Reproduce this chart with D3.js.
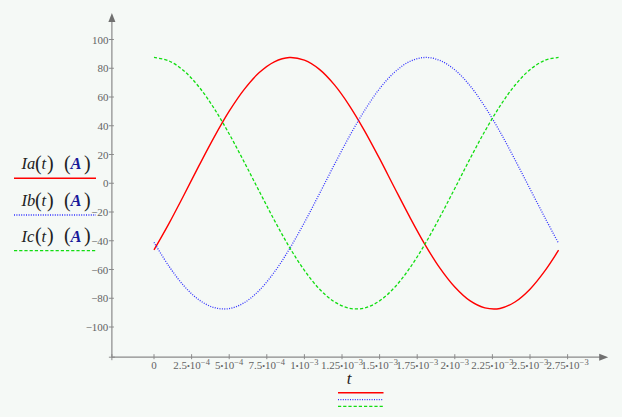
<!DOCTYPE html>
<html><head><meta charset="utf-8">
<script src="https://cdn.jsdelivr.net/npm/d3@7"></script>
<style>
html,body{margin:0;padding:0;background:#f5f9f6;}
svg{display:block;}
</style></head>
<body>
<script>
// time samples (s)
const tValues = [0,1e-4,2e-4,3e-4,4e-4,5e-4,6e-4,7e-4,8e-4,9e-4,1.0e-3,1.1e-3,1.2e-3,1.3e-3,1.4e-3,1.5e-3,1.6e-3,1.7e-3,1.8e-3,1.9e-3,2.0e-3,2.1e-3,2.2e-3,2.3e-3,2.4e-3,2.5e-3,2.6e-3,2.69e-3];
const Ia = [-46.4,-27.9,-8.0,12.4,32.1,50.1,65.3,77.0,84.5,87.5,85.6,79.2,68.4,53.9,36.5,17.1,-3.3,-23.4,-42.3,-58.9,-72.2,-81.7,-86.7,-87.1,-82.6,-73.7,-60.8,-46.6];
const Ib = [-41.1,-57.8,-71.5,-81.2,-86.5,-87.2,-83.1,-74.5,-61.8,-45.8,-27.3,-7.3,13.1,32.8,50.6,65.8,77.3,84.7,87.5,85.5,78.9,68.0,53.3,35.9,16.4,-3.9,-24.1,-41.8];
const Ic = [87.5,85.1,78.1,66.9,52.0,34.3,14.7,-5.6,-25.7,-44.4,-60.6,-73.6,-82.5,-87.0,-86.8,-81.8,-72.4,-59.1,-42.6,-23.7,-3.6,16.8,36.2,53.6,68.2,79.0,85.6,87.5];
const yTicks = [100,80,60,40,20,0,-20,-40,-60,-80,-100];
const xTicks = [0,2.5e-4,5e-4,7.5e-4,1e-3,1.25e-3,1.5e-3,1.75e-3,2e-3,2.25e-3,2.5e-3,2.75e-3];
const xTickMant = ["0","2.5","5","7.5","1","1.25","1.5","1.75","2","2.25","2.5","2.75"];
const xTickExp = ["","−4","−4","−4","−3","−3","−3","−3","−3","−3","−3","−3"];
const seriesNames = ["Ia","Ib","Ic"];
const seriesColors = ["#ff0000","#3030ff","#11dd11"];
const seriesDash = [null,"1,1.4","3.2,2"];
const xAxisRange = [-2.8e-4, 3.02e-3];
const yAxisRange = [-121, 118.5];

const W=622,H=417;
const svg=d3.select("body").append("svg").attr("width",W).attr("height",H);
svg.append("rect").attr("width",W).attr("height",H).attr("fill","#f5f9f6");

const x=d3.scaleLinear().domain([0,2.75e-3]).range([154,567.6]);
const y=d3.scaleLinear().domain([-100,100]).range([327,39.5]);

const axisCol="#8a8a8a", labCol="#636363";
const serif="'Liberation Serif','Times New Roman',serif";

// axes lines
const x0=x(xAxisRange[0]), x1=x(xAxisRange[1]);
const yb=y(yAxisRange[0]), yt=y(yAxisRange[1]);
svg.append("line").attr("x1",x0).attr("x2",x1-3).attr("y1",yb).attr("y2",yb).attr("stroke",axisCol).attr("stroke-width",1.2);
svg.append("line").attr("x1",x0).attr("x2",x0).attr("y1",yb).attr("y2",yt+3).attr("stroke",axisCol).attr("stroke-width",1.2);
svg.append("path").attr("d",`M${x1},${yb} L${x1-9},${yb-3.5} L${x1-9},${yb+3.5}Z`).attr("fill","#707070");
svg.append("path").attr("d",`M${x0},${yt} L${x0-3.5},${yt+9} L${x0+3.5},${yt+9}Z`).attr("fill","#707070");
// corner ticks
svg.append("line").attr("x1",x0-3).attr("x2",x0+3).attr("y1",yb).attr("y2",yb).attr("stroke",axisCol);
svg.append("line").attr("x1",x0).attr("x2",x0).attr("y1",yb-3).attr("y2",yb+3).attr("stroke",axisCol);

// y ticks
const gy=svg.append("g");
yTicks.forEach(v=>{
  gy.append("line").attr("x1",x0-3).attr("x2",x0+2).attr("y1",y(v)).attr("y2",y(v)).attr("stroke",axisCol);
  gy.append("text").attr("x",x0-3.5).attr("y",y(v)+4).attr("text-anchor","end")
    .attr("font-family",serif).attr("font-size",11).attr("fill",labCol)
    .text(v<0?"−"+Math.abs(v):String(v));
});
// x ticks
const gx=svg.append("g");
xTicks.forEach((v,i)=>{
  gx.append("line").attr("x1",x(v)).attr("x2",x(v)).attr("y1",yb-3).attr("y2",yb+2).attr("stroke",axisCol);
  const t=gx.append("text").attr("x",x(v)).attr("y",yb+12).attr("text-anchor","middle")
    .attr("font-family",serif).attr("font-size",11).attr("fill",labCol);
  if(xTickExp[i]===""){ t.text(xTickMant[i]); }
  else{
    t.append("tspan").text(xTickMant[i]);
    t.append("tspan").attr("font-size",8).attr("dy",-0.5).text("•");
    t.append("tspan").attr("dy",0.5).text("10");
    t.append("tspan").attr("font-size",8.5).attr("dy",-4).text(xTickExp[i]);
  }
});

// curves
const data=[Ia,Ib,Ic];
const line=d3.line().x((d,i)=>x(tValues[i])).y(d=>y(d)).curve(d3.curveCatmullRom);
data.forEach((s,k)=>{
  const p=svg.append("path").datum(s).attr("d",line).attr("fill","none")
    .attr("stroke",seriesColors[k]).attr("stroke-width",k===0?1.4:1.3);
  if(seriesDash[k]) p.attr("stroke-dasharray",seriesDash[k]);
});

// left legend (y-axis titles)
const legY=[169.3,206,241.7];
seriesNames.forEach((n,k)=>{
  const by=legY[k];
  const g=svg.append("g").attr("font-family",serif);
  g.append("text").attr("x",21.5).attr("y",by).attr("font-size",16.5).attr("font-style","italic").attr("fill","#222").text(n);
  g.append("text").attr("x",35).attr("y",by+0.5).attr("font-size",20).attr("fill","#222").text("(");
  g.append("text").attr("x",41.5).attr("y",by).attr("font-size",16.5).attr("font-style","italic").attr("fill","#222").text("t");
  g.append("text").attr("x",47).attr("y",by+0.5).attr("font-size",20).attr("fill","#222").text(")");
  g.append("text").attr("x",64).attr("y",by+0.5).attr("font-size",20).attr("fill","#222").text("(");
  g.append("text").attr("x",70.5).attr("y",by).attr("font-size",16.5).attr("font-style","italic").attr("font-weight","bold").attr("fill","#1a1a9a").text("A");
  g.append("text").attr("x",84).attr("y",by+0.5).attr("font-size",20).attr("fill","#222").text(")");
  const l=svg.append("line").attr("x1",14).attr("x2",96).attr("y1",by+9).attr("y2",by+9)
    .attr("stroke",seriesColors[k]).attr("stroke-width",k===0?1.6:1.3);
  if(seriesDash[k]) l.attr("stroke-dasharray",seriesDash[k]);
});

// x title + bottom legend
svg.append("text").attr("x",349).attr("y",383.5).attr("text-anchor","middle").attr("font-family",serif)
  .attr("font-size",17).attr("font-style","italic").attr("fill","#222").text("t");
[392.7,399.7,406.3].forEach((yy,k)=>{
  const l=svg.append("line").attr("x1",338).attr("x2",383.5).attr("y1",yy).attr("y2",yy)
    .attr("stroke",seriesColors[k]).attr("stroke-width",k===0?1.6:1.3);
  if(seriesDash[k]) l.attr("stroke-dasharray",seriesDash[k]);
});
</script>
</body></html>
